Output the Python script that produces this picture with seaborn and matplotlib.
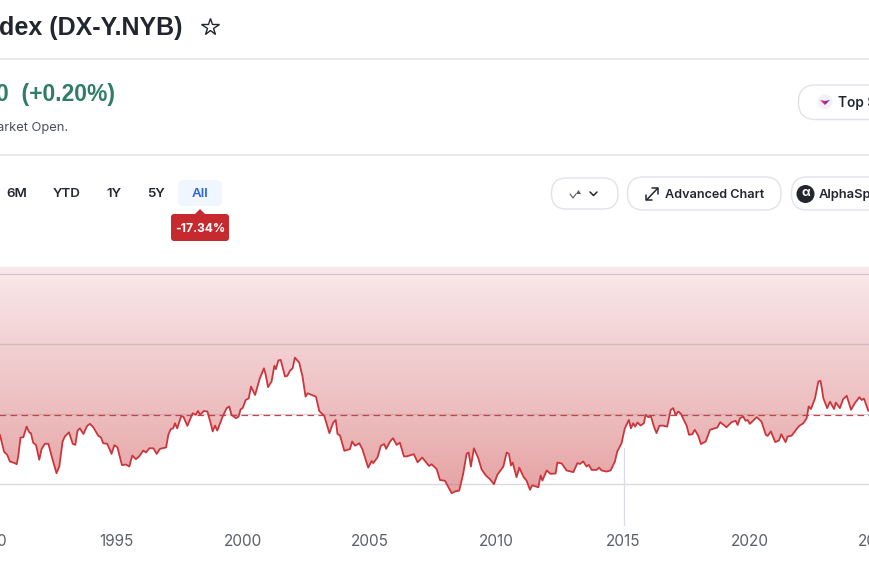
"""US Dollar Index all-time chart with the surrounding page controls."""

import numpy as np
import pandas as pd
import matplotlib
matplotlib.use("Agg")
import matplotlib.pyplot as plt
from matplotlib.patches import FancyBboxPatch, Polygon, Circle
import seaborn as sns

sns.set_theme(style="white")
plt.rcParams["font.family"] = ["Inter", "DejaVu Sans"]

years = [
    1990.41, 1990.52, 1990.57, 1990.70, 1990.80, 1991.00, 1991.07, 1991.13, 1991.22, 1991.33,
    1991.46, 1991.57, 1991.63, 1991.72, 1991.83, 1991.96, 1992.05, 1992.18, 1992.32, 1992.45,
    1992.64, 1992.75, 1992.88, 1992.97, 1993.13, 1993.28, 1993.38, 1993.47, 1993.56, 1993.70,
    1993.85, 1993.96, 1994.09, 1994.29, 1994.39, 1994.48, 1994.64, 1994.81, 1994.92, 1995.04,
    1995.22, 1995.38, 1995.51, 1995.63, 1995.77, 1995.90, 1996.06, 1996.17, 1996.30, 1996.46,
    1996.59, 1996.72, 1996.96, 1997.05, 1997.14, 1997.24, 1997.31, 1997.40, 1997.55, 1997.64,
    1997.80, 1998.01, 1998.13, 1998.22, 1998.30, 1998.45, 1998.59, 1998.72, 1998.80, 1998.89,
    1998.98, 1999.19, 1999.35, 1999.45, 1999.54, 1999.72, 1999.82, 1999.90, 1999.98, 2000.10,
    2000.22, 2000.31, 2000.47, 2000.66, 2000.82, 2000.89, 2000.98, 2001.12, 2001.23, 2001.29,
    2001.39, 2001.48, 2001.65, 2001.74, 2001.85, 2001.95, 2002.04, 2002.21, 2002.34, 2002.46,
    2002.54, 2002.87, 2003.00, 2003.20, 2003.40, 2003.55, 2003.65, 2003.72, 2003.82, 2003.99,
    2004.21, 2004.30, 2004.41, 2004.58, 2004.70, 2004.93, 2005.07, 2005.13, 2005.30, 2005.43,
    2005.56, 2005.64, 2005.79, 2005.91, 2006.05, 2006.18, 2006.34, 2006.45, 2006.73, 2006.88,
    2007.06, 2007.33, 2007.43, 2007.63, 2007.76, 2007.96, 2008.22, 2008.38, 2008.52, 2008.68,
    2008.81, 2008.89, 2008.98, 2009.10, 2009.27, 2009.40, 2009.57, 2009.73, 2009.89, 2010.02,
    2010.26, 2010.39, 2010.48, 2010.56, 2010.63, 2010.78, 2010.89, 2011.05, 2011.18, 2011.31,
    2011.40, 2011.64, 2011.73, 2011.80, 2011.97, 2012.12, 2012.32, 2012.39, 2012.56, 2012.75,
    2013.02, 2013.18, 2013.28, 2013.41, 2013.54, 2013.63, 2013.74, 2013.94, 2014.04, 2014.13,
    2014.33, 2014.49, 2014.66, 2014.75, 2014.92, 2015.05, 2015.21, 2015.29, 2015.38, 2015.46,
    2015.55, 2015.67, 2015.80, 2015.87, 2015.97, 2016.08, 2016.20, 2016.30, 2016.41, 2016.54,
    2016.72, 2016.86, 2016.96, 2017.05, 2017.16, 2017.26, 2017.49, 2017.58, 2017.71, 2017.81,
    2017.95, 2018.05, 2018.24, 2018.41, 2018.70, 2018.81, 2019.06, 2019.26, 2019.42, 2019.50,
    2019.59, 2019.72, 2019.81, 2019.89, 2019.98, 2020.25, 2020.44, 2020.61, 2020.68, 2020.81,
    2020.98, 2021.13, 2021.22, 2021.39, 2021.47, 2021.63, 2021.82, 2021.93, 2022.09, 2022.22,
    2022.30, 2022.39, 2022.55, 2022.68, 2022.77, 2022.88, 2023.03, 2023.14, 2023.30, 2023.37,
    2023.53, 2023.66, 2023.80, 2023.97, 2024.12, 2024.30, 2024.39, 2024.48, 2024.65, 2024.72,
    2024.85,
]
dxy = [
    92.6, 88.4, 86.6, 85.4, 83.1, 82.5, 82.1, 84.9, 91.6, 91.7,
    95.5, 93.4, 93.2, 89.8, 89.0, 83.7, 87.5, 89.4, 89.4, 84.9,
    78.9, 81.3, 90.2, 92.0, 93.5, 89.4, 89.0, 94.1, 94.9, 92.9,
    95.8, 96.5, 95.3, 92.2, 91.7, 89.6, 89.4, 85.8, 88.9, 88.2,
    81.8, 82.0, 81.3, 85.2, 83.9, 84.9, 87.0, 86.3, 87.8, 87.8,
    85.8, 87.6, 88.1, 92.6, 94.6, 94.9, 96.7, 94.9, 99.1, 99.1,
    95.8, 100.3, 99.7, 101.1, 99.7, 101.1, 100.9, 96.7, 93.8, 95.9,
    94.1, 99.1, 102.1, 102.7, 99.7, 98.5, 99.1, 101.7, 102.1, 105.0,
    105.6, 109.8, 106.8, 112.8, 116.3, 113.9, 109.6, 111.6, 117.2, 116.0,
    119.1, 119.3, 113.4, 113.6, 115.5, 116.3, 120.1, 118.3, 113.4, 106.2,
    107.4, 106.2, 101.1, 99.3, 93.2, 96.9, 97.9, 92.9, 92.3, 86.9,
    87.5, 90.2, 88.7, 89.6, 87.5, 80.9, 83.3, 82.5, 84.6, 88.7,
    89.3, 87.6, 90.2, 91.4, 89.0, 89.8, 84.9, 84.9, 85.7, 82.8,
    84.5, 81.5, 82.1, 80.4, 76.5, 76.2, 71.8, 72.5, 72.7, 78.9,
    85.8, 86.3, 81.3, 87.8, 84.3, 80.3, 78.1, 76.8, 75.0, 78.3,
    81.3, 86.3, 85.8, 81.7, 82.7, 77.5, 80.9, 77.7, 76.2, 73.0,
    74.6, 73.9, 78.1, 76.3, 79.9, 78.7, 78.8, 82.7, 82.4, 79.9,
    79.3, 82.5, 82.2, 83.1, 81.3, 81.9, 80.1, 80.1, 80.9, 79.9,
    79.5, 79.9, 83.1, 86.6, 89.6, 94.9, 97.9, 94.9, 96.7, 95.5,
    97.0, 95.9, 96.7, 99.7, 98.9, 99.1, 95.5, 93.2, 95.8, 95.9,
    95.5, 101.5, 102.1, 99.7, 100.9, 100.1, 95.8, 92.6, 92.8, 94.4,
    92.2, 89.3, 90.2, 94.4, 95.2, 97.1, 95.3, 97.1, 97.6, 96.1,
    98.5, 99.1, 97.6, 97.9, 96.5, 98.9, 97.3, 92.6, 92.2, 93.8,
    90.0, 90.6, 92.8, 90.0, 92.0, 92.3, 94.6, 95.8, 96.7, 98.5,
    102.7, 101.8, 105.6, 111.6, 111.8, 105.6, 102.1, 104.4, 101.8, 104.1,
    102.1, 105.3, 106.5, 101.5, 103.9, 106.0, 105.0, 105.5, 101.2, 100.9,
    100.5,
]
gridlines = [75, 100, 125, 150]
baseline = 99.7
crosshair_year = 2015.0
crosshair_value = 94.9
tick_years = [1990, 1995, 2000, 2005, 2010, 2015, 2020, 2025]
ranges = ["6M", "YTD", "1Y", "5Y", "All"]

TEXT = "#22262e"
BORDER = "#e2e2ea"
RED = "#cb363c"
HEAD_FONT = ["Liberation Sans", "DejaVu Sans"]

df = pd.DataFrame({"year": years, "dxy": dxy})

fig = plt.figure(figsize=(8.7, 5.7), dpi=100)
fig.patch.set_facecolor("white")

# price axes run a little past the canvas so the 1990 and 2025 labels get cut off
ax = fig.add_axes([-50 / 870, (570 - 526) / 570, 970 / 870, (526 - 267) / 570])
ax.set_xlim(1988.44, 2026.69)
ax.set_ylim(60.1, 152.4)
ax.patch.set_alpha(0)

# area above the line, shaded darker towards the bottom
top = ax.get_ylim()[1]
area = ax.fill_between(df["year"], df["dxy"], top, color="none", lw=0)
shade = matplotlib.colors.LinearSegmentedColormap.from_list(
    "shade", ["#f9e9ea", "#f2d1d3", "#ecbabb", "#e5a0a1"])
img = ax.imshow(np.linspace(0, 1, 256).reshape(-1, 1), cmap=shade, aspect="auto",
                extent=[1990.41, 2024.85, 69.5, top], origin="upper", zorder=1)
img.set_clip_path(area.get_paths()[0], transform=ax.transData)
ax.set_xlim(1988.44, 2026.69)
ax.set_ylim(60.1, 152.4)

for g in gridlines:
    ax.axhline(g, color="#9a8a9a", alpha=0.35, lw=0.9, zorder=2)
ax.axhline(baseline, color="#c4444a", lw=0.9, dashes=(5.3, 3.5), zorder=3)
ax.plot([crosshair_year, crosshair_year], [60.1, crosshair_value - 7],
        color="#dcdde4", lw=0.9, zorder=2)

sns.lineplot(data=df, x="year", y="dxy", ax=ax, color=RED, lw=1.3, zorder=4,
             errorbar=None, estimator=None, sort=False, solid_joinstyle="round")

ax.set(xlabel="", ylabel="")
ax.set_yticks([])
ax.set_xticks(tick_years)
ax.set_xticklabels([str(t) for t in tick_years], color="#5a6069", fontsize=11)
ax.tick_params(axis="x", length=0, pad=5.5)
sns.despine(ax=ax, left=True, bottom=True)

# page furniture in pixel coordinates
ui = fig.add_axes([0, 0, 1, 1])
ui.set_xlim(0, 870)
ui.set_ylim(570, 0)
ui.axis("off")
ui.patch.set_alpha(0)


def pill(x0, y0, x1, y1, r, fc="white", ec=BORDER, lw=1.0):
    ui.add_patch(FancyBboxPatch((x0 + r, y0 + r), x1 - x0 - 2 * r, y1 - y0 - 2 * r,
                                boxstyle=f"round,pad={r},rounding_size={r}",
                                fc=fc, ec=ec, lw=lw))


ui.text(183, 28.5, "dex (DX-Y.NYB)", ha="right", va="center", fontsize=18,
        fontweight="bold", color=TEXT, family=HEAD_FONT)
ui.plot([210], [27], marker="*", ms=13, mfc="none", mec=TEXT, mew=1.0)
ui.axhline(58.5, color=BORDER, lw=1.1)
ui.axhline(155, color=BORDER, lw=1.1)

ui.text(115, 94, "0  (+0.20%)", ha="right", va="center", fontsize=16.5,
        fontweight="bold", color="#2f7d62", family=HEAD_FONT)
ui.text(68, 128.5, "arket Open.", ha="right", va="center", fontsize=9.3, color="#4a4f58")

# range selector
pill(178, 180, 222, 206, 5, fc="#eff6fe", ec="none")
for label, cx in zip(ranges, [17, 67, 114, 156, 200]):
    ui.text(cx, 194, label, ha="center", va="center", fontsize=9.6, fontweight="semibold",
            color="#2f66d0" if label == "All" else TEXT)

pill(171, 214, 229, 241, 3, fc="#c62a2f", ec="none")
ui.add_patch(Polygon([[194, 215], [200, 209], [206, 215]], fc="#c62a2f", ec="none"))
ui.text(200, 229, "-17.34%", ha="center", va="center", fontsize=8.7, fontweight="bold",
        color="white")

# toolbar buttons
pill(798.5, 85, 900, 119.5, 17)
ui.add_patch(Circle((825, 102), 7.5, fc="#f2f2f5", ec="none"))
ui.add_patch(Polygon([[820, 100], [825, 101], [825, 105]], fc="#d81f8c", ec="none"))
ui.add_patch(Polygon([[830, 100], [825, 101], [825, 105]], fc="#6a34c8", ec="none"))
ui.text(838, 103, "Top S", ha="left", va="center", fontsize=9.9, fontweight="semibold",
        color=TEXT)

pill(551.5, 178, 618, 209, 15)
ui.plot([570, 573, 576], [194, 198, 194], color="#555a63", lw=0.8)
ui.add_patch(Polygon([[576, 194], [578.5, 190], [581, 194]], fc="#555a63", ec="none"))
ui.plot([590, 593.5, 597], [192, 195.5, 192], color=TEXT, lw=1.1)

pill(627.5, 177, 781, 210, 16)
# expand icon: a diagonal with a small open head at each end
ui.plot([647, 657.5], [199.5, 188.5], color=TEXT, lw=1.1)
ui.plot([652.5, 658, 658], [188, 188, 193.5], color=TEXT, lw=1.1)
ui.plot([646.5, 646.5, 652], [194.5, 200, 200], color=TEXT, lw=1.1)
ui.text(665, 195, "Advanced Chart", ha="left", va="center", fontsize=9.1,
        fontweight="semibold", color=TEXT)

pill(791.5, 177, 900, 210, 16)
ui.add_patch(Circle((805.5, 194), 9, fc=TEXT, ec="none"))
ui.text(805.5, 193.5, "α", ha="center", va="center", fontsize=9, fontweight="bold", color="white")
ui.text(819, 195, "AlphaSp", ha="left", va="center", fontsize=9.3, fontweight="semibold",
        color=TEXT)

fig.savefig("out.png", dpi=100)
